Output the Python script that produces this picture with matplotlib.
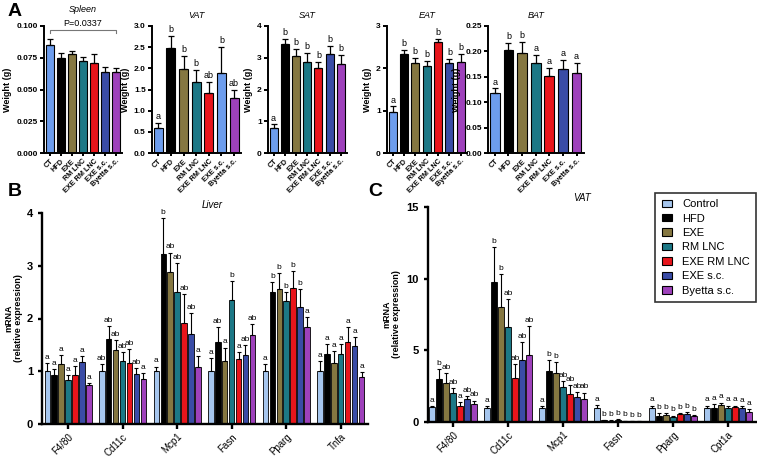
import matplotlib
matplotlib.use("Agg")
import matplotlib.pyplot as plt
import numpy as np
from matplotlib.patches import Patch

plt.rcParams['font.family'] = ['Liberation Sans', 'DejaVu Sans']

W, H = 757, 458

# ---------------- data ----------------
groups_A = ["CT", "HFD", "EXE", "RM LNC", "EXE RM LNC", "EXE s.c.", "Byetta s.c."]

spleen_mean = [0.085, 0.0745, 0.078, 0.0723, 0.0705, 0.064, 0.0635]
spleen_err = [0.005, 0.0045, 0.0026, 0.003, 0.0075, 0.004, 0.0035]

vat_mean = [0.58, 2.48, 1.99, 1.67, 1.42, 1.89, 1.31]
vat_err = [0.12, 0.29, 0.31, 0.30, 0.25, 0.62, 0.19]
vat_letters = ["a", "b", "b", "b", "ab", "b", "ab"]

sat_mean = [0.78, 3.42, 3.04, 2.87, 2.68, 3.12, 2.81]
sat_err = [0.12, 0.17, 0.23, 0.29, 0.18, 0.25, 0.27]
sat_letters = ["a", "b", "b", "b", "b", "b", "b"]

eat_mean = [0.97, 2.33, 2.13, 2.05, 2.63, 2.12, 2.16]
eat_err = [0.13, 0.10, 0.12, 0.12, 0.07, 0.11, 0.19]
eat_letters = ["a", "b", "b", "b", "b", "b", "b"]

bat_mean = [0.118, 0.203, 0.196, 0.178, 0.151, 0.166, 0.158]
bat_err = [0.009, 0.013, 0.023, 0.015, 0.016, 0.018, 0.020]
bat_letters = ["a", "b", "b", "a", "a", "a", "a"]

spleen_p = "P=0.0337"

legend_labels = ["Control", "HFD", "EXE", "RM LNC", "EXE RM LNC", "EXE s.c.", "Byetta s.c."]

liver_genes = ["F4/80", "Cd11c", "Mcp1", "Fasn", "Pparg", "Tnfa"]
liver_mean = [
    [1.00, 0.92, 1.14, 0.84, 0.93, 1.17, 0.73],
    [1.00, 1.61, 1.40, 1.19, 1.15, 0.95, 0.86],
    [1.00, 3.22, 2.88, 2.50, 1.91, 1.71, 1.09],
    [1.00, 1.55, 1.19, 2.35, 1.23, 1.31, 1.68],
    [1.00, 2.50, 2.56, 2.33, 2.58, 2.21, 1.84],
    [1.00, 1.32, 1.16, 1.33, 1.55, 1.47, 0.89],
]
liver_err = [
    [0.15, 0.13, 0.17, 0.08, 0.17, 0.11, 0.05],
    [0.13, 0.24, 0.19, 0.17, 0.27, 0.11, 0.11],
    [0.09, 0.68, 0.37, 0.55, 0.56, 0.39, 0.19],
    [0.25, 0.29, 0.26, 0.36, 0.13, 0.19, 0.22],
    [0.13, 0.19, 0.30, 0.17, 0.32, 0.35, 0.19],
    [0.19, 0.19, 0.22, 0.19, 0.29, 0.18, 0.10],
]
liver_letters = [
    ["a", "a", "a", "a", "a", "a", "a"],
    ["ab", "ab", "ab", "ab", "ab", "ab", "a"],
    ["a", "b", "ab", "ab", "ab", "ab", "a"],
    ["a", "ab", "a", "b", "a", "ab", "ab"],
    ["a", "b", "b", "b", "b", "b", "a"],
    ["a", "a", "a", "a", "a", "a", "a"],
]

vatc_genes = ["F4/80", "Cd11c", "Mcp1", "Fasn", "Pparg", "Cpt1a"]
vatc_mean = [
    [1.05, 2.98, 2.74, 2.02, 1.09, 1.58, 1.23],
    [0.98, 9.77, 8.02, 6.65, 3.05, 4.33, 4.65],
    [0.98, 3.56, 3.40, 2.47, 1.93, 1.74, 1.60],
    [0.98, 0.12, 0.10, 0.15, 0.08, 0.05, 0.04],
    [1.00, 0.45, 0.50, 0.35, 0.55, 0.55, 0.40],
    [1.00, 1.00, 1.20, 1.00, 1.05, 0.95, 0.70],
]
vatc_err = [
    [0.08, 0.74, 0.68, 0.35, 0.31, 0.21, 0.27],
    [0.12, 2.45, 2.30, 1.91, 0.97, 1.27, 2.05],
    [0.12, 0.77, 0.80, 0.39, 0.63, 0.35, 0.45],
    [0.22, 0.03, 0.03, 0.04, 0.02, 0.02, 0.02],
    [0.15, 0.15, 0.10, 0.10, 0.10, 0.15, 0.10],
    [0.15, 0.25, 0.15, 0.15, 0.10, 0.15, 0.20],
]
vatc_letters = [
    ["a", "b", "ab", "ab", "a", "ab", "ab"],
    ["a", "b", "b", "ab", "ab", "ab", "ab"],
    ["a", "b", "b", "ab", "ab", "ab", "ab"],
    ["a", "b", "b", "b", "b", "b", "b"],
    ["a", "b", "b", "b", "b", "b", "b"],
    ["a", "a", "a", "a", "a", "a", "a"],
]

# ---------------- styles ----------------
col_A = ["#6d9ded", "#000000", "#857741", "#1c7886", "#e8151b", "#3a4ca6", "#9e41bb"]
col_A_vat = ["#6d9ded", "#000000", "#857741", "#1c7886", "#e8151b", "#6d9ded", "#9e41bb"]
col_BC = ["#a6c6ee", "#000000", "#857741", "#1c7886", "#e8151b", "#3a4ca6", "#9e41bb"]

fig = plt.figure(figsize=(W / 100, H / 100), dpi=100)


def ax_px(l, r, top, bottom):
    return fig.add_axes([l / W, 1 - bottom / H, (r - l) / W, (bottom - top) / H])


def style_axes(ax, lw=1.6):
    for s in ["top", "right"]:
        ax.spines[s].set_visible(False)
    for s in ["left", "bottom"]:
        ax.spines[s].set_linewidth(lw)
    ax.tick_params(width=lw, length=3, direction="out")


# ---------------- panel A ----------------
A_specs = [
    ("Spleen", spleen_mean, spleen_err, None, (44, 122), [0, 0.025, 0.05, 0.075, 0.1], ["0.000", "0.025", "0.050", "0.075", "0.100"], col_A),
    ("VAT", vat_mean, vat_err, vat_letters, (152, 241), [0, 0.5, 1, 1.5, 2, 2.5, 3], ["0.0", "0.5", "1.0", "1.5", "2.0", "2.5", "3.0"], col_A_vat),
    ("SAT", sat_mean, sat_err, sat_letters, (268, 347), [0, 1, 2, 3, 4], ["0", "1", "2", "3", "4"], col_A),
    ("EAT", eat_mean, eat_err, eat_letters, (387, 467), [0, 1, 2, 3], ["0", "1", "2", "3"], col_A),
    ("BAT", bat_mean, bat_err, bat_letters, (488, 584), [0, 0.05, 0.1, 0.15, 0.2, 0.25], ["0.00", "0.05", "0.10", "0.15", "0.20", "0.25"], col_A),
]

for title, m, e, letters, (l, r), yt, ytl, cols in A_specs:
    ax = ax_px(l, r, 26, 153)
    x = np.arange(len(m))
    ax.bar(x, m, width=0.72, color=cols, edgecolor="black", linewidth=0.8, zorder=2)
    ax.errorbar(x, m, yerr=[np.zeros(len(e)), e], fmt="none", ecolor="black",
                elinewidth=0.9, capsize=2, capthick=0.9, zorder=3)
    ax.set_xlim(-0.5, len(m) - 0.45)
    ax.set_ylim(0, yt[-1])
    ax.set_yticks(yt)
    ax.set_yticklabels(ytl, fontsize=6, fontweight="bold")
    ax.set_xticks(x)
    ax.set_xticklabels(groups_A, rotation=45, ha="right", rotation_mode="anchor",
                       fontsize=5.2, fontweight="bold")
    style_axes(ax, 1.4)
    ax.tick_params(axis="x", length=2, pad=1.5)
    ax.tick_params(axis="y", length=3, pad=1.5)
    ax.set_ylabel("Weight (g)", fontsize=6.5, fontweight="bold", labelpad=3)
    ax.set_title(title, fontsize=6.5, style="italic", pad=6 if title != "Spleen" else 10)
    span = yt[-1]
    if letters is not None:
        for xi, mi, ei, lt in zip(x, m, e, letters):
            ax.text(xi, mi + ei + span * 0.015, lt, ha="center", va="bottom", fontsize=6.5)
    else:
        yb = 0.0967
        ax.plot([0, 0, 6, 6], [0.0945, yb, yb, 0.0945], color="#777777", lw=0.8, clip_on=False)
        ax.text(3, 0.0985, spleen_p, ha="center", va="bottom", fontsize=6.5, clip_on=False)

# ---------------- panels B & C ----------------
n_bar = 7
offs = (np.arange(n_bar) - 3) * 0.127
bw = 0.1


def grouped(ax, genes, means, errs, letters, ymax, yt, lab_x):
    xg = np.arange(len(genes))
    for j in range(n_bar):
        mj = [means[g][j] for g in range(len(genes))]
        ej = [errs[g][j] for g in range(len(genes))]
        ax.bar(xg + offs[j], mj, width=bw, color=col_BC[j], edgecolor="black", linewidth=0.6, zorder=2)
        ax.errorbar(xg + offs[j], mj, yerr=[np.zeros(len(ej)), ej], fmt="none", ecolor="black",
                    elinewidth=0.8, capsize=1.6, capthick=0.8, zorder=3)
        for g in range(len(genes)):
            ax.text(xg[g] + offs[j], mj[g] + ej[g] + ymax * 0.01, letters[g][j],
                    ha="center", va="bottom", fontsize=6)
    ax.set_xticks(xg)
    ax.set_xticklabels(genes, rotation=45, ha="right", rotation_mode="anchor", fontsize=7)
    ax.set_ylim(0, ymax)
    ax.set_yticks(yt)
    ax.set_yticklabels([str(v) for v in yt], fontsize=8, fontweight="bold")
    style_axes(ax, 1.7)
    ax.tick_params(axis="x", length=3.5, pad=2)
    ax.set_ylabel("mRNA\n(relative expression)", fontsize=6.5, fontweight="bold",
                  linespacing=1.1)
    ax.yaxis.set_label_coords(lab_x, 0.5)


axB = ax_px(42, 368, 213, 424)
grouped(axB, liver_genes, liver_mean, liver_err, liver_letters, 4, [0, 1, 2, 3, 4], (23 - 42) / 326)
axB.set_xlim(-0.477, 5.5)

axC = ax_px(428, 757, 207, 422)
grouped(axC, vatc_genes, vatc_mean, vatc_err, vatc_letters, 15, [0, 5, 10, 15], (401 - 428) / 329)
axC.set_xlim(-0.455, 5.53)

fig.text(212 / W, 1 - 205 / H, "Liver", ha="center", va="center", fontsize=7, style="italic")
fig.text(582 / W, 1 - 198 / H, "VAT", ha="center", va="center", fontsize=7, style="italic")

handles = [Patch(facecolor=c, edgecolor="black", linewidth=0.8) for c in col_BC]
leg = fig.legend(handles, legend_labels, loc="upper right",
                 bbox_to_anchor=(756 / W, 1 - 193 / H), fontsize=8, frameon=True,
                 fancybox=False, edgecolor="black", handlelength=0.95, handleheight=0.65,
                 labelspacing=0.4, borderpad=0.55, handletextpad=0.9, borderaxespad=0)
leg.get_frame().set_linewidth(1.2)

# panel letters
fig.text(8 / W, 1 - 12 / H, "A", fontsize=14, fontweight="bold", ha="left", va="center")
fig.text(8 / W, 1 - 192 / H, "B", fontsize=14, fontweight="bold", ha="left", va="center")
fig.text(368 / W, 1 - 192 / H, "C", fontsize=14, fontweight="bold", ha="left", va="center")

fig.savefig("out.png", dpi=100)
